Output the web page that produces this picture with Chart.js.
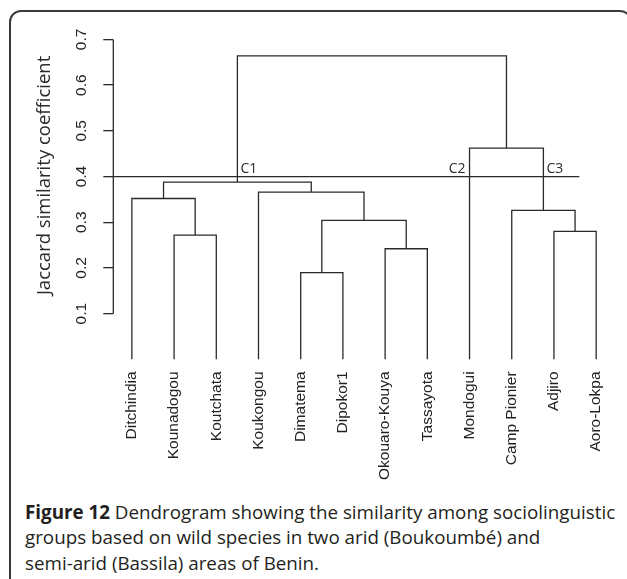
<!DOCTYPE html>
<html>
<head>
<meta charset="utf-8">
<script src="https://cdn.jsdelivr.net/npm/chart.js@4.4.1/dist/chart.umd.min.js"></script>
<style>
  html, body { margin: 0; padding: 0; background: #fff; overflow: hidden; }
  body { width: 627px; height: 579px; position: relative; }
  .frame {
    position: absolute; left: 9px; top: 10px; width: 623px; height: 640px;
    box-sizing: border-box; border: 2px solid #3a3a3a; border-radius: 12px;
  }
  #chart { position: absolute; left: 0; top: 0; }
  .caption {
    position: absolute; left: 25px; top: 500px;
    font-family: 'Open Sans', sans-serif; font-size: 18.8px; line-height: 25.3px;
    color: #231f20; white-space: nowrap;
  }
  .caption b { font-weight: 700; }
</style>
</head>
<body>
<div class="frame"></div>
<canvas id="chart" width="627" height="480"></canvas>
<div class="caption"><b>Figure 12</b> Dendrogram showing the similarity among sociolinguistic<br>groups based on wild species in two arid (Boukoumbé) and<br>semi-arid (Bassila) areas of Benin.</div>
<script>
// leaves in plotted order
const leaves = ['Ditchindia', 'Kounadogou', 'Koutchata', 'Koukongou', 'Dimatema', 'Dipokor1',
  'Okouaro-Kouya', 'Tassayota', 'Mondogui', 'Camp Pionier', 'Adjiro', 'Aoro-Lokpa'];

// hclust style merges: negative = leaf (1-based), positive = earlier merge
const mergeLeft = [-5, -7, -2, -11, 1, -10, -1, -4, 7, -9, 9];
const mergeRight = [-6, -8, -3, -12, 2, 4, 3, 5, 8, 6, 10];
const mergeHeight = [0.19, 0.242, 0.272, 0.28, 0.304, 0.326, 0.352, 0.366, 0.388, 0.462, 0.664];

const yTicks = [0.1, 0.2, 0.3, 0.4, 0.5, 0.6, 0.7];

// cut line and the clusters it gives
const cutHeight = 0.4;
const cutEnd = 10.6;
const clusterNames = ['C1', 'C2', 'C3'];
const clusterNodes = [9, -9, 6];

const ink = '#2a2a2a';
const xMin = -0.44;
const xMax = 11.5;

const nodeX = [];
const where = (id) => id < 0
  ? { x: -id - 1, y: 0 }
  : { x: nodeX[id - 1], y: mergeHeight[id - 1] };

mergeHeight.forEach((h, i) => {
  nodeX.push((where(mergeLeft[i]).x + where(mergeRight[i]).x) / 2);
});

const lineStyle = {
  showLine: true,
  pointRadius: 0,
  borderColor: ink,
  borderWidth: 1.3,
  tension: 0,
  fill: false,
};

const branches = mergeHeight.map((h, i) => {
  const a = where(mergeLeft[i]);
  const b = where(mergeRight[i]);
  return {
    ...lineStyle,
    data: [{ x: a.x, y: a.y }, { x: a.x, y: h }, { x: b.x, y: h }, { x: b.x, y: b.y }],
  };
});

const cutLine = {
  ...lineStyle,
  data: [{ x: xMin, y: cutHeight }, { x: cutEnd, y: cutHeight }],
};

// axis bracket, axis title and cluster names
const extras = {
  id: 'extras',
  afterDraw(chart) {
    const { ctx, chartArea, scales: { x, y } } = chart;
    ctx.save();
    ctx.strokeStyle = ink;
    ctx.lineWidth = 1.3;
    ctx.beginPath();
    ctx.moveTo(chartArea.left, y.getPixelForValue(yTicks[0]));
    ctx.lineTo(chartArea.left, y.getPixelForValue(yTicks[yTicks.length - 1]));
    ctx.stroke();

    ctx.fillStyle = ink;
    ctx.font = '18.5px "Open Sans"';
    ctx.textAlign = 'center';
    ctx.textBaseline = 'middle';
    ctx.translate(45, chartArea.top + 136);
    ctx.rotate(-Math.PI / 2);
    ctx.fillText('Jaccard similarity coefficient', 0, 0);
    ctx.restore();

    ctx.save();
    ctx.fillStyle = ink;
    ctx.font = '14px "Open Sans"';
    ctx.textBaseline = 'alphabetic';
    const cy = y.getPixelForValue(cutHeight) - 4;
    clusterNames.forEach((name, i) => {
      const px = x.getPixelForValue(where(clusterNodes[i]).x);
      const before = clusterNodes[i] < 0;
      ctx.textAlign = before ? 'right' : 'left';
      ctx.fillText(name, px + (before ? -4 : 3), cy);
    });
    ctx.restore();
  },
};

new Chart(document.getElementById('chart'), {
  type: 'scatter',
  data: { datasets: [...branches, cutLine] },
  options: {
    responsive: false,
    animation: false,
    layout: { padding: { left: 0, right: 5.7, top: 39.4, bottom: 0 } },
    plugins: { legend: { display: false }, tooltip: { enabled: false } },
    scales: {
      x: {
        type: 'linear',
        min: xMin,
        max: xMax,
        afterBuildTicks: (s) => { s.ticks = leaves.map((_, i) => ({ value: i })); },
        afterFit: (s) => { s.height = 120.6; },
        grid: { display: false, drawTicks: false },
        border: { display: false },
        ticks: {
          autoSkip: false,
          minRotation: 90,
          maxRotation: 90,
          padding: 12,
          color: '#222',
          font: { family: 'Liberation Sans', size: 15.5 },
          callback: (v) => leaves[v],
        },
      },
      y: {
        min: 0,
        max: 0.7,
        afterBuildTicks: (s) => { s.ticks = yTicks.map((v) => ({ value: v })); },
        afterFit: (s) => { s.width = 113.3; },
        grid: { display: true, drawOnChartArea: false, drawTicks: true, tickLength: 10, color: ink, lineWidth: 1.3 },
        border: { display: false },
        ticks: {
          minRotation: 90,
          maxRotation: 90,
          crossAlign: 'center',
          padding: 10.5,
          color: '#222',
          font: { family: 'Liberation Sans', size: 15.5 },
          callback: (v) => v.toFixed(1),
        },
      },
    },
  },
  plugins: [extras],
});
</script>
</body>
</html>
